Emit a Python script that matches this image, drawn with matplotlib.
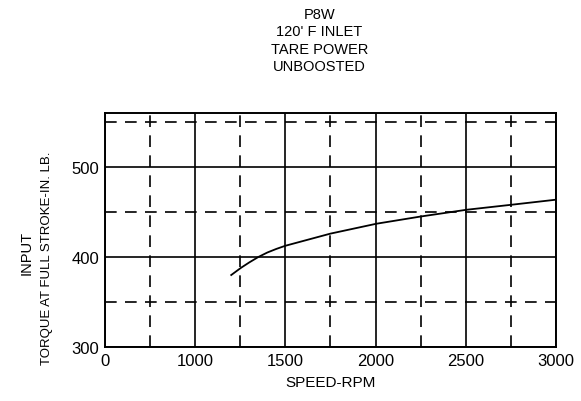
import matplotlib
matplotlib.use('Agg')
import matplotlib.pyplot as plt
from matplotlib.ticker import FixedLocator, FixedFormatter

plt.rcParams['font.family'] = ['Liberation Sans', 'DejaVu Sans']

# curve
speed_rpm = [1200, 1254, 1300, 1350, 1400, 1450, 1500, 1750, 2005, 2250, 2504, 2750, 3000]
torque = [380, 388, 394, 400, 405, 409, 412.5, 426, 437, 445, 452.5, 458, 463.7]

x_major = [500, 1000, 1500, 2000, 2500, 3000]
x_labels = ['0', '1000', '1500', '2000', '2500', '3000']
x_minor = [750, 1250, 1750, 2250, 2750]
y_major = [300, 400, 500]
y_minor = [350, 450, 550]

fig = plt.figure(figsize=(5.81, 4.02), dpi=100)
ax = fig.add_axes([0.1807, 0.1343, 0.776, 0.582])

ax.set_xlim(500, 3000)
ax.set_ylim(300, 560)

ax.xaxis.set_major_locator(FixedLocator(x_major))
ax.xaxis.set_major_formatter(FixedFormatter(x_labels))
ax.xaxis.set_minor_locator(FixedLocator(x_minor))
ax.yaxis.set_major_locator(FixedLocator(y_major))
ax.yaxis.set_minor_locator(FixedLocator(y_minor))

ax.grid(which='major', color='black', lw=1.2, ls='-')
ax.grid(which='minor', color='black', lw=1.2, ls=(0, (7, 5)))
ax.tick_params(which='both', length=0, labelsize=12, pad=4)
for s in ax.spines.values():
    s.set_linewidth(1.4)

ax.plot(speed_rpm, torque, color='black', lw=1.3)

ax.set_xlabel('SPEED-RPM', fontsize=11, labelpad=5)
fig.text(0.045, 0.37, 'INPUT', rotation=90, fontsize=10.5, ha='center', va='center')
fig.text(0.081, 0.358, 'TORQUE AT FULL STROKE-IN. LB.', rotation=90, fontsize=9.5,
         ha='center', va='center')

fig.text(0.55, 0.98, "P8W\n120' F INLET\nTARE POWER\nUNBOOSTED",
         ha='center', va='top', fontsize=10.5, linespacing=1.3)

fig.savefig('out.png', dpi=100)
